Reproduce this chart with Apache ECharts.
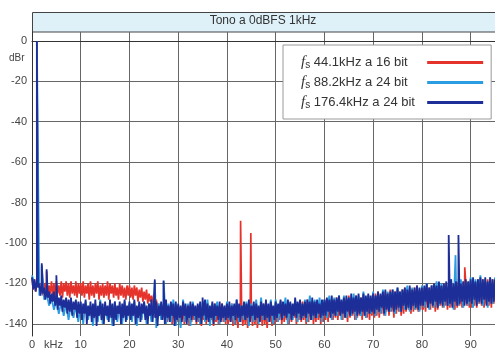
<!DOCTYPE html>
<html>
<head>
<meta charset="utf-8">
<script src="https://cdn.jsdelivr.net/npm/echarts@6/dist/echarts.min.js"></script>
<style>
  html, body { margin: 0; padding: 0; background: #fff; }
  #chart { width: 495px; height: 350px; }
</style>
</head>
<body>
<div id="chart"></div>
<script>
// spectrum samples from 0 kHz up to 95 kHz (values in dBr)
var fineStep = 0.25;   // red and dark blue traces
var coarseStep = 0.5;  // light blue trace (mostly covered)
var yTicks = [0, -20, -40, -60, -80, -100, -120, -140];

var red = [
  -117,-123,-118,-124,-119,-122,-120,-125,-119,-126, -120,-124,-119,-127,-121,-125,-119,-126,-120,-127,
  -119,-125,-121,-126,-119,-127,-120,-124,-119,-126, -120,-127,-119,-125,-121,-126,-119,-127,-120,-125,
  -120,-126,-119,-127,-121,-125,-120,-128,-119,-126, -121,-127,-120,-125,-119,-128,-121,-126,-120,-127,
  -121,-126,-119,-128,-120,-125,-121,-127,-120,-126, -122,-128,-120,-126,-121,-127,-122,-128,-121,-126,
  -121,-127,-122,-128,-121,-126,-122,-129,-123,-127, -122,-129,-124,-128,-123,-130,-125,-129,-126,-131,
  -125,-130,-128,-133,-130,-136,-131,-138,-130,-137, -132,-139,-131,-138,-130,-140,-132,-137,-131,-139,
  -131,-139,-132,-138,-130,-140,-131,-138,-132,-141, -131,-139,-130,-138,-132,-140,-131,-139,-130,-141,
  -132,-138,-131,-140,-130,-139,-132,-138,-131,-141, -130,-139,-132,-140,-131,-138,-130,-139,-132,-140,
  -131,-140,-132,-139,-130,-141,-131,-140,-132,-142, -131,-139,-130,-141,-132,-140,-131,-142,-130,-139,
  -132,-141,-131,-140,-130,-142,-132,-139,-131,-141, -130,-140,-132,-142,-131,-139,-130,-141,-132,-140,
  -130,-139,-131,-138,-129,-140,-130,-139,-131,-138, -129,-140,-130,-139,-131,-137,-129,-140,-130,-138,
  -131,-139,-129,-138,-130,-140,-128,-139,-130,-138, -129,-140,-131,-139,-129,-138,-130,-140,-129,-139,
  -129,-138,-128,-139,-127,-137,-129,-138,-128,-137, -127,-138,-128,-136,-129,-138,-127,-137,-128,-139,
  -126,-137,-128,-136,-127,-138,-126,-137,-128,-136, -127,-138,-126,-136,-127,-137,-126,-138,-127,-136,
  -126,-137,-125,-136,-124,-137,-126,-135,-125,-136, -124,-134,-125,-136,-123,-134,-125,-137,-124,-135,
  -123,-134,-124,-136,-123,-135,-122,-134,-124,-133, -122,-135,-123,-134,-122,-133,-121,-134,-123,-133,
  -123,-133,-122,-134,-121,-132,-122,-133,-121,-132, -120,-134,-121,-133,-120,-131,-121,-132,-120,-131,
  -120,-133,-121,-132,-119,-131,-120,-133,-121,-132, -119,-131,-120,-132,-119,-130,-120,-131,-119,-132,
  -119,-132,-118,-131,-120,-132,-118,-130,-119,-131, -118,-132,-119,-130,-118,-131,-119,-132,-118,-130,-119
];
var lightBlue = [
  -116, -120, -120, -126, -123, -128, -125, -131, -127, -133, -128, -135, -129, -136, -130, -138, -130, -137, -131, -139,
  -130, -140, -129, -138, -131, -141, -130, -139, -128, -140, -131, -138, -130, -141, -129, -139, -131, -140, -129, -138,
  -130, -139, -129, -141, -131, -138, -129, -140, -130, -139, -128, -142, -130, -138, -129, -140, -130, -139, -128, -141,
  -131, -142, -128, -139, -130, -141, -129, -138, -131, -140, -129, -139, -128, -141, -130, -138, -129, -140, -131, -139,
  -129, -138, -130, -140, -128, -139, -131, -138, -129, -141, -130, -139, -128, -140, -127, -138, -130, -139, -128, -140,
  -128, -139, -129, -137, -127, -140, -130, -138, -128, -139, -129, -137, -128, -139, -126, -138, -128, -137, -127, -139,
  -128, -137, -126, -138, -127, -136, -126, -138, -126, -137, -127, -136, -125, -138, -126, -136, -124, -137, -126, -135,
  -124, -136, -125, -135, -123, -136, -124, -134, -123, -135, -122, -134, -123, -133, -121, -134, -122, -133, -122, -134,
  -121, -132, -120, -133, -121, -132, -119, -131, -120, -132, -120, -131, -118, -133, -119, -131, -118, -132, -119, -131,
  -117, -132, -118, -130, -116, -131, -118, -132, -117, -130, -117
];
var darkBlue = [
  -117,-123,-118,-124,-119,-122,-120,-126,-121,-125, -122,-128,-123,-127,-124,-130,-125,-129,-124,-131,
  -126,-133,-127,-131,-126,-134,-128,-132,-127,-135, -128,-134,-127,-136,-129,-133,-128,-137,-129,-135,
  -129,-138,-130,-135,-128,-140,-131,-136,-129,-139, -130,-137,-128,-141,-131,-136,-129,-138,-130,-140,
  -129,-136,-131,-139,-128,-137,-130,-141,-129,-138, -131,-135,-129,-140,-130,-137,-128,-139,-131,-136,
  -129,-138,-130,-136,-128,-140,-131,-137,-129,-139, -130,-135,-129,-138,-131,-140,-130,-136,-128,-139,
  -130,-137,-129,-141,-131,-136,-129,-138,-130,-140, -128,-137,-131,-139,-129,-136,-130,-141,-129,-138,
  -130,-137,-131,-139,-129,-136,-130,-140,-131,-137, -129,-138,-130,-136,-131,-139,-130,-137,-129,-140,
  -131,-136,-128,-138,-130,-139,-131,-137,-129,-140, -130,-136,-131,-138,-129,-139,-130,-137,-131,-138,
  -130,-137,-129,-139,-131,-136,-130,-138,-128,-137, -130,-139,-131,-136,-129,-138,-130,-137,-128,-139,
  -131,-136,-129,-138,-130,-137,-131,-139,-129,-136, -130,-138,-128,-137,-130,-139,-129,-136,-131,-138,
  -129,-137,-130,-135,-128,-138,-129,-136,-130,-137, -128,-135,-129,-138,-130,-136,-127,-137,-129,-135,
  -128,-138,-130,-136,-129,-137,-128,-135,-129,-138, -127,-136,-129,-137,-128,-135,-130,-137,-128,-136,
  -128,-136,-127,-134,-128,-137,-126,-135,-128,-136, -127,-134,-126,-136,-128,-135,-127,-137,-126,-134,
  -127,-136,-125,-135,-127,-134,-126,-136,-125,-135, -127,-134,-125,-136,-126,-134,-125,-135,-126,-134,
  -125,-135,-126,-133,-124,-134,-125,-132,-124,-135, -123,-133,-125,-134,-124,-132,-123,-134,-124,-133,
  -122,-132,-124,-134,-123,-131,-122,-133,-123,-132, -121,-133,-123,-131,-122,-132,-121,-133,-122,-131,
  -122,-131,-121,-129,-120,-132,-122,-130,-121,-131, -120,-129,-121,-132,-119,-130,-121,-131,-120,-129,
  -119,-131,-120,-130,-118,-132,-120,-129,-119,-131, -118,-130,-120,-129,-119,-131,-118,-130,-119,-129,
  -118,-130,-117,-128,-119,-131,-118,-129,-117,-130, -118,-128,-117,-131,-119,-129,-117,-130,-118,-129,-118
];

// discrete tones / spurs: [kHz, dBr]
var redSpikes = [[1.0, 0], [2.0, -112], [3.0, -114], [42.8, -89], [44.9, -95], [88.8, -112]];
var lightSpikes = [[1.0, 0], [2.0, -111], [25.2, -119], [27.0, -119], [86.9, -106]];
var darkSpikes = [[1.0, 0], [2.0, -110], [3.0, -113], [5.0, -116], [25.2, -118], [27.0, -118.5], [35.0, -127], [85.5, -96], [87.5, -96]];

var names = ['fs 44.1kHz a 16 bit', 'fs 88.2kHz a 24 bit', 'fs 176.4kHz a 24 bit'];
var colors = ['#e5322b', '#2a9de2', '#1e2e98'];

function buildSeries(vals, step, spikes) {
  var pts = vals.map(function (v, i) { return [i * step, v]; });
  spikes.forEach(function (s) { pts.push([s[0], s[1]]); });
  pts.sort(function (a, b) { return a[0] - b[0]; });
  return pts;
}

var chart = echarts.init(document.getElementById('chart'));
var seriesData = [
  buildSeries(red, fineStep, redSpikes),
  buildSeries(lightBlue, coarseStep, lightSpikes),
  buildSeries(darkBlue, fineStep, darkSpikes)
];

var option = {
  animation: false,
  backgroundColor: '#ffffff',
  textStyle: { fontFamily: 'Liberation Sans, Arial, sans-serif' },
  title: {
    text: 'Tono a 0dBFS 1kHz',
    left: 263, top: 15, textAlign: 'center',
    textStyle: { fontSize: 12, fontWeight: 'normal', color: '#333' },
    padding: 0
  },
  graphic: [
    { type: 'rect', shape: { x: 32.5, y: 12.5, width: 470, height: 19.5 }, style: { fill: '#def1f9', stroke: '#444', lineWidth: 1 }, z: -1 },
    { type: 'text', left: 9, top: 53, style: { text: 'dBr', fontSize: 10, fill: '#444', fontFamily: 'Liberation Sans, Arial, sans-serif' } },
    { type: 'text', left: 44, top: 339, style: { text: 'kHz', fontSize: 11, fill: '#444', fontFamily: 'Liberation Sans, Arial, sans-serif' } }
  ],
  grid: { left: 32, right: 0, top: 32, bottom: 12 },
  legend: {
    orient: 'vertical',
    left: 283, top: 45,
    align: 'right',
    backgroundColor: '#ffffff',
    borderColor: '#999',
    borderWidth: 1,
    padding: [10, 8, 9, 18],
    itemGap: 5,
    itemWidth: 56,
    itemHeight: 3,
    icon: 'rect',
    data: names,
    formatter: function (n) { return '{f|f}{s|s}{t| ' + n.slice(3) + '}'; },
    textStyle: {
      fontSize: 13, color: '#333',
      rich: {
        f: { fontSize: 15, fontStyle: 'italic', fontFamily: 'Liberation Serif, serif', color: '#333', align: 'left' },
        s: { fontSize: 10, color: '#333', padding: [5, 0, 0, 0], align: 'left' },
        t: { fontSize: 13, color: '#333', width: 112, align: 'left' }
      }
    }
  },
  xAxis: {
    type: 'value', min: 0, max: 95, interval: 10,
    axisLine: { show: true, lineStyle: { color: '#333', width: 1 } },
    axisTick: { show: false },
    splitLine: { show: true, lineStyle: { color: '#666', width: 1 } },
    axisLabel: { fontSize: 11, color: '#444', margin: 3, showMaxLabel: false }
  },
  yAxis: {
    type: 'value', min: -146, max: 4.4,
    axisLine: { show: true, lineStyle: { color: '#333', width: 1 } },
    axisTick: { show: false, customValues: yTicks },
    splitLine: { show: true, lineStyle: { color: '#666', width: 1 } },
    axisLabel: { fontSize: 11, color: '#444', margin: 5, customValues: yTicks }
  },
  series: names.map(function (n, i) {
    return {
      name: n, type: 'line', data: seriesData[i],
      symbol: 'none', sampling: null,
      lineStyle: { color: colors[i], width: [1.7, 1.8, 1.8][i] },
      itemStyle: { color: colors[i] },
      z: 2 + i
    };
  })
};

chart.setOption(option);
</script>
</body>
</html>
